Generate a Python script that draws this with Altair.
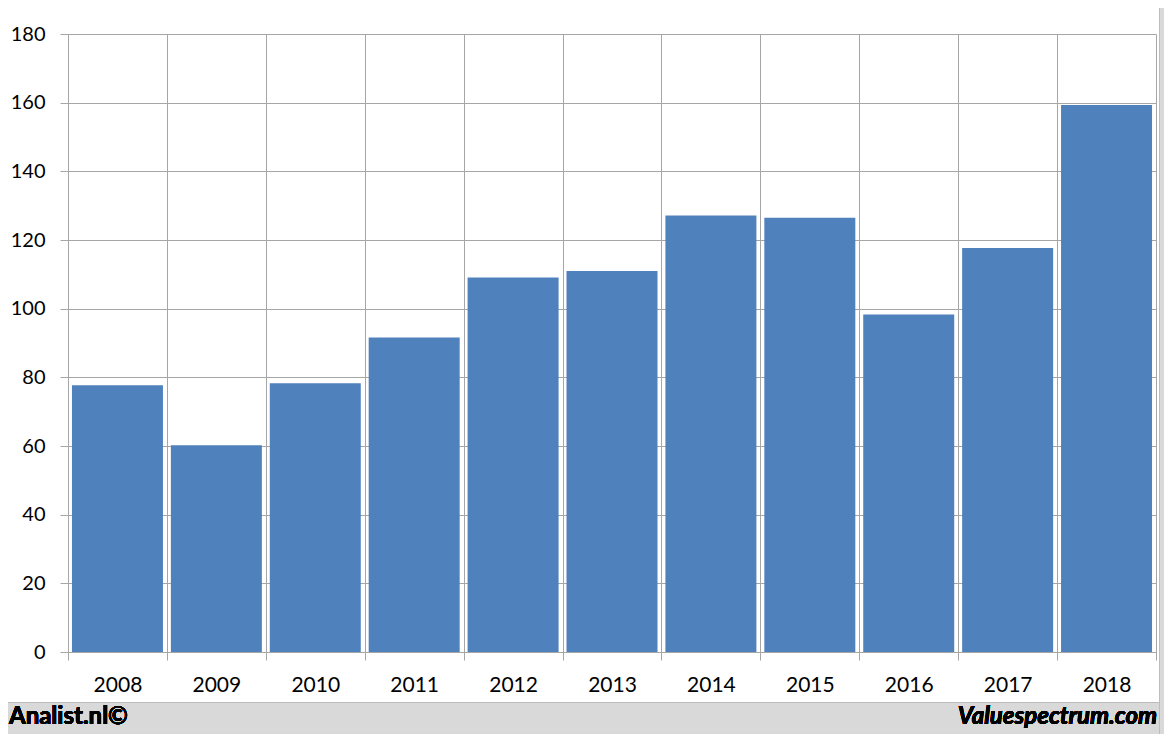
import altair as alt
import pandas as pd

years = ["2008", "2009", "2010", "2011", "2012", "2013", "2014", "2015", "2016", "2017", "2018"]
values = [77.7, 60.2, 78.3, 91.6, 109.1, 111.0, 127.1, 126.5, 98.3, 117.7, 159.3]
y_ticks = [0, 20, 40, 60, 80, 100, 120, 140, 160, 180]
footer_left = "Analist.nl©"
footer_right = "Valuespectrum.com"

df = pd.DataFrame({"year": years, "value": values})

W, H = 1088, 618
GRID = "#a6a6a6"
FRAME = "#d9d9d9"
FONT = "Lato"

bottom_strip = alt.Chart(df).mark_rect(fill=FRAME, stroke="#bdbdbd", strokeWidth=1).encode(
    x=alt.value(-70), x2=alt.value(1100), y=alt.value(668.5), y2=alt.value(710)
)
right_strip = alt.Chart(df).mark_rect(fill=FRAME, stroke="#bdbdbd", strokeWidth=1).encode(
    x=alt.value(1091.5), x2=alt.value(1100), y=alt.value(-40), y2=alt.value(710)
)

bars = alt.Chart(df).mark_bar(color="#4F81BD", width=alt.RelativeBandSize(0.92)).encode(
    x=alt.X("year:N", sort=years,
            scale=alt.Scale(paddingInner=0, paddingOuter=0),
            axis=alt.Axis(title=None, labelAngle=0, tickBand="extent", grid=True,
                          gridColor=GRID, domainColor=GRID, tickColor=GRID,
                          tickSize=8, labelPadding=14, labelFont=FONT,
                          labelFontSize=21, labelColor="#000000")),
    y=alt.Y("value:Q", scale=alt.Scale(domain=[0, 180], nice=False),
            axis=alt.Axis(title=None, values=y_ticks, grid=True, gridColor=GRID,
                          domainColor=GRID, tickColor=GRID, tickSize=8,
                          labelPadding=15, labelFont=FONT, labelFontSize=20,
                          labelColor="#000000")),
)

left_txt = alt.Chart(df).mark_text(
    align="left", baseline="alphabetic", font=FONT, fontSize=24, fontWeight="bold", color="#000000"
).encode(x=alt.value(-59), y=alt.value(690), text=alt.value(footer_left))

right_txt = alt.Chart(df).mark_text(
    align="right", baseline="alphabetic", font=FONT, fontSize=24, fontWeight="bold",
    fontStyle="italic", color="#000000"
).encode(x=alt.value(1089), y=alt.value(690), text=alt.value(footer_right))

chart = alt.layer(bars, bottom_strip, right_strip, left_txt, right_txt).properties(
    width=W, height=H,
    autosize=alt.AutoSizeParams(type="none"),
    padding={"left": 60, "top": 26, "right": 8, "bottom": 82},
    background="white",
).configure_view(stroke="transparent")

chart.save("out.html", embed_options={"renderer": "svg", "actions": False})
